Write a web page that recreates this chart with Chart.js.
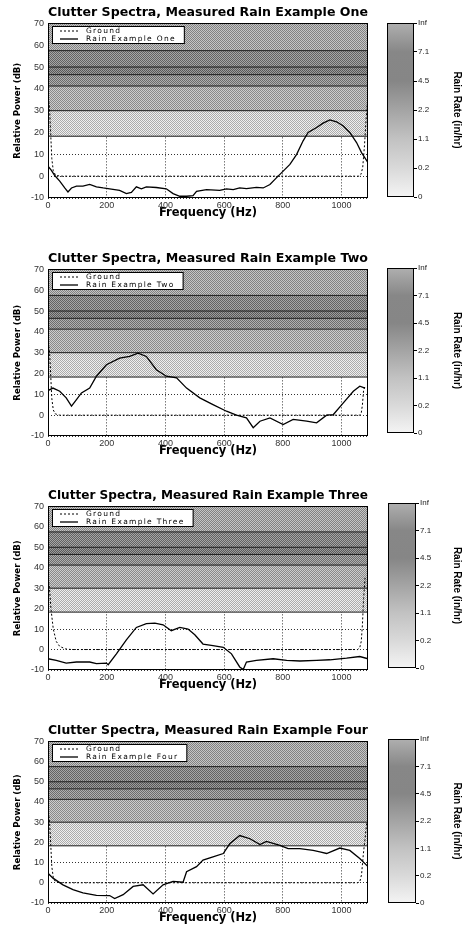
<!DOCTYPE html>
<html lang="en">
<head>
<meta charset="UTF-8" />
<title>Clutter Spectra, Measured Rain Examples</title>
<script src="https://cdn.jsdelivr.net/npm/chart.js@4"></script>
<style>
  html, body { margin: 0; padding: 0; background: #fff; }
  body { width: 463px; height: 926px; position: relative; overflow: hidden; }
  canvas { position: absolute; }
</style>
</head>
<body>
<script>
// ---- data ----
const xTicks = [0, 200, 400, 600, 800, 1000];
const yTicks = [-10, 0, 10, 20, 30, 40, 50, 60, 70];
const rainLevels = ['0', '0.2', '1.1', '2.2', '4.5', '7.1', 'Inf'];
const bandEdges = [18.3, 30, 41.3, 46.5, 50, 57.5, 70];

const titles = [
  'Clutter Spectra, Measured Rain Example One',
  'Clutter Spectra, Measured Rain Example Two',
  'Clutter Spectra, Measured Rain Example Three',
  'Clutter Spectra, Measured Rain Example Four'
];
const rainNames = ['Rain Example One', 'Rain Example Two', 'Rain Example Three', 'Rain Example Four'];

const groundHz1 = [0, 5, 9, 13, 18, 25, 40, 1060, 1066, 1072, 1078, 1084, 1090];
const groundDb1 = [36, 32, 20, 8, 2.5, 0.6, 0, 0, 0.8, 4, 14, 27, 37];
const rainHz1 = [0, 11, 23, 40, 57, 68, 80, 97, 119, 142, 165, 188, 210, 244, 267, 284, 301, 318, 335, 369, 403, 426, 449, 472, 494, 506, 540, 585, 608, 631, 653, 676, 710, 733, 756, 778, 801, 824, 847, 869, 886, 915, 937, 960, 983, 1006, 1028, 1051, 1068, 1090];
const rainDb1 = [4.6, 2.8, 0.3, -2.3, -5.4, -7.2, -5.4, -4.6, -4.6, -3.8, -4.9, -5.4, -5.8, -6.5, -8, -7.4, -4.9, -5.8, -4.9, -5.2, -5.8, -8, -9.2, -9.2, -8.9, -6.9, -6.2, -6.5, -5.8, -6.2, -5.4, -5.7, -5.1, -5.4, -3.8, -0.8, 2.3, 5.4, 10, 16.2, 20, 22.3, 24.3, 25.8, 24.9, 23, 20, 15.4, 10.8, 6.2];

const groundHz2 = [0, 5, 9, 13, 18, 25, 40, 1062, 1067, 1071, 1075, 1080];
const groundDb2 = [35, 31, 20, 8, 2.5, 0.6, 0, 0, 1, 5, 12, 14];
const rainHz2 = [0, 17, 40, 62, 80, 97, 114, 142, 165, 199, 244, 278, 307, 335, 369, 403, 438, 472, 517, 562, 608, 642, 676, 699, 722, 756, 801, 835, 881, 915, 949, 972, 1006, 1040, 1062, 1080];
const rainDb2 = [11.8, 13, 11.5, 8.3, 4.3, 7.5, 10.7, 13, 18.7, 24.2, 27.4, 28.2, 29.8, 28.2, 21.8, 18.7, 17.9, 13, 8.3, 5.1, 1.9, 0, -1.3, -6, -2.9, -1.3, -4.5, -2, -2.9, -3.7, 0, 0.3, 5.9, 11.5, 13.9, 13];

const groundHz3 = [0, 5, 10, 18, 28, 40, 60, 80, 1055, 1062, 1067, 1071, 1075, 1080];
const groundDb3 = [35, 30, 20, 10, 4, 1.5, 0.3, 0, 0, 1, 4, 12, 25, 35];
const rainHz3 = [0, 28, 62, 97, 142, 165, 199, 205, 233, 267, 301, 335, 364, 392, 420, 449, 477, 500, 528, 562, 597, 625, 653, 665, 676, 710, 767, 813, 858, 915, 960, 1017, 1062, 1090];
const rainDb3 = [-4.5, -5.3, -6.6, -6.1, -6.1, -6.9, -6.6, -7.4, -2.1, 4.7, 10.8, 12.7, 12.9, 12.1, 9.2, 10.8, 10, 7.2, 2.7, 1.9, 1.1, -2.1, -8.5, -9.8, -6.1, -5.3, -4.5, -5.3, -5.6, -5.3, -5, -4.2, -3.4, -4.5];

const groundHz4 = [0, 5, 9, 13, 18, 25, 40, 1055, 1062, 1068, 1074, 1080, 1086];
const groundDb4 = [35, 31, 20, 8, 2.5, 0.6, 0, 0, 0.5, 4, 14, 22, 30];
const rainHz4 = [0, 17, 51, 85, 119, 165, 210, 227, 256, 290, 324, 358, 392, 426, 460, 472, 506, 528, 562, 597, 619, 653, 688, 722, 744, 790, 818, 858, 903, 926, 949, 994, 1028, 1062, 1090];
const rainDb4 = [4.7, 2.3, -1, -3.4, -5, -6.2, -6.3, -7.8, -5.9, -1.8, -1, -5.5, -1, 0.7, 0.3, 5.5, 8, 11.2, 12.8, 14.5, 19.3, 23.4, 21.8, 18.9, 20.5, 18.5, 16.9, 16.9, 16, 15.3, 14.5, 17.2, 16, 12, 8];

const groundHz = [groundHz1, groundHz2, groundHz3, groundHz4];
const groundDb = [groundDb1, groundDb2, groundDb3, groundDb4];
const rainHz = [rainHz1, rainHz2, rainHz3, rainHz4];
const rainDb = [rainDb1, rainDb2, rainDb3, rainDb4];

// ---- styles and layout ----
const X_MAX = 1090;
const bandShades = [205, 171, 142, 123, 132, 163];
const cbarShades = ['#f4f4f4', '#d9d9d9', '#c2c2c2', '#a4a4a4', '#868686', '#878787', '#afafaf'];
const PLOT_LEFT = 48, PLOT_RIGHT = 368, MAIN_W = 416, CBAR_X = 380;
const panels = [
  { top: 23, bottom: 198, barL: 387, barR: 414, barT: 23, barB: 197 },
  { top: 269, bottom: 436, barL: 387, barR: 414, barT: 268, barB: 433 },
  { top: 506, bottom: 670, barL: 388, barR: 416, barT: 503, barB: 668 },
  { top: 741, bottom: 903, barL: 388, barR: 416, barT: 739, barB: 903 }
];

Chart.defaults.font.family = '"Liberation Sans", Arial, sans-serif';
Chart.defaults.color = '#000';

const xy = (xs, ys) => xs.map((x, i) => ({ x: x, y: ys[i] }));

// small checker so the shaded bands look like the halftone of the print
function dither(level) {
  const c = document.createElement('canvas');
  c.width = 2; c.height = 2;
  const g = c.getContext('2d');
  const lo = Math.max(level - 34, 0), hi = Math.min(level + 34, 255);
  g.fillStyle = `rgb(${hi},${hi},${hi})`;
  g.fillRect(0, 0, 2, 2);
  g.fillStyle = `rgb(${lo},${lo},${lo})`;
  g.fillRect(0, 0, 1, 1);
  g.fillRect(1, 1, 1, 1);
  return g.createPattern(c, 'repeat');
}

const frame = {
  id: 'frame',
  afterDatasetsDraw(chart) {
    const a = chart.chartArea, ctx = chart.ctx;
    ctx.save();
    ctx.strokeStyle = '#000';
    ctx.lineWidth = 1;
    ctx.strokeRect(Math.round(a.left) + 0.5, Math.round(a.top) + 0.5,
      Math.round(a.right - a.left) - 1, Math.round(a.bottom - a.top) - 1);
    ctx.restore();
  }
};

// legend box in the top-left corner of the axes
const boxLegend = {
  id: 'boxLegend',
  afterDatasetsDraw(chart) {
    const a = chart.chartArea, ctx = chart.ctx;
    const items = chart.data.datasets.filter(d => d.label);
    ctx.save();
    ctx.font = '7.5px "DejaVu Sans", sans-serif';
    ctx.letterSpacing = '1.3px';
    const tw = Math.max(...items.map(d => ctx.measureText(d.label).width));
    const x0 = Math.round(a.left) + 4, y0 = Math.round(a.top) + 3;
    const w = 34 + tw + 8, h = 17;
    ctx.fillStyle = '#fff';
    ctx.fillRect(x0, y0, w, h);
    ctx.strokeStyle = '#000';
    ctx.lineWidth = 1;
    ctx.strokeRect(x0 + 0.5, y0 + 0.5, w, h);
    items.forEach((d, i) => {
      const y = y0 + 5 + i * 8;
      ctx.setLineDash(d.borderDash || []);
      ctx.lineWidth = d.borderWidth;
      ctx.beginPath();
      ctx.moveTo(x0 + 8, y);
      ctx.lineTo(x0 + 26, y);
      ctx.stroke();
      ctx.setLineDash([]);
      ctx.fillStyle = '#000';
      ctx.textBaseline = 'middle';
      ctx.fillText(d.label, x0 + 34, y);
    });
    ctx.restore();
  }
};

function makeCanvas(left, top, w, h) {
  const c = document.createElement('canvas');
  c.width = w; c.height = h;
  c.style.left = left + 'px'; c.style.top = top + 'px';
  c.style.width = w + 'px'; c.style.height = h + 'px';
  document.body.appendChild(c);
  return c;
}

panels.forEach((p, i) => {
  // main spectrum axes
  const mainH = (p.bottom - p.top) + 23 + 24;
  const cv = makeCanvas(0, p.top - 23, MAIN_W, mainH);

  const bands = bandEdges.map((edge, k) => ({
    data: [{ x: 0, y: edge }, { x: X_MAX, y: edge }],
    borderColor: '#1a1a1a',
    borderWidth: 1,
    pointRadius: 0,
    backgroundColor: k === 0 ? 'transparent' : dither(bandShades[k - 1]),
    fill: k === 0 ? false : { value: bandEdges[k - 1] }
  }));

  new Chart(cv, {
    type: 'line',
    data: {
      datasets: [
        { label: 'Ground', data: xy(groundHz[i], groundDb[i]), borderColor: '#000', borderWidth: 1,
          borderDash: [2, 2], pointRadius: 0, fill: false },
        { label: rainNames[i], data: xy(rainHz[i], rainDb[i]), borderColor: '#000', borderWidth: 1.3,
          pointRadius: 0, fill: false },
        ...bands
      ]
    },
    options: {
      responsive: false,
      animation: false,
      devicePixelRatio: 1,
      layout: { padding: { top: 5, right: MAIN_W - PLOT_RIGHT, left: 0, bottom: 0 } },
      plugins: {
        legend: { display: false },
        tooltip: { enabled: false },
        title: {
          display: true, text: titles[i], fullSize: false, color: '#000',
          font: { family: '"DejaVu Sans", sans-serif', weight: 'bold', size: 12.8 },
          padding: { top: 0, bottom: 3 }
        }
      },
      scales: {
        x: {
          type: 'linear', min: 0, max: X_MAX,
          afterBuildTicks: s => { s.ticks = xTicks.map(v => ({ value: v })); },
          afterFit: s => { s.height = 24; },
          grid: { color: '#333', lineWidth: 1, drawTicks: false },
          border: { display: false, dash: [1, 2] },
          ticks: { padding: 2, color: '#333', font: { size: 9 }, callback: v => String(v) },
          title: {
            display: true, text: 'Frequency (Hz)', color: '#000',
            font: { family: '"DejaVu Sans", sans-serif', weight: 'bold', size: 11.5 },
            padding: { top: 0, bottom: 2 }
          }
        },
        y: {
          min: -10, max: 70,
          afterBuildTicks: s => { s.ticks = yTicks.map(v => ({ value: v })); },
          afterFit: s => { s.width = PLOT_LEFT; },
          grid: { color: '#333', lineWidth: 1, drawTicks: false },
          border: { display: false, dash: [1, 2] },
          ticks: { padding: 4, color: '#333', font: { size: 9 }, callback: v => String(v) },
          title: {
            display: true, text: 'Relative Power (dB)', color: '#000',
            font: { family: '"Liberation Sans Narrow", "Arial Narrow", "DejaVu Sans Condensed", sans-serif', weight: 'bold', size: 9.5 },
            padding: { top: 12, bottom: 0 }
          }
        }
      }
    },
    plugins: [frame, boxLegend]
  });

  // rain-rate colorbar
  const cbH = (p.barB - p.barT) + 20;
  const cc = makeCanvas(CBAR_X, p.barT - 10, 463 - CBAR_X, cbH);
  new Chart(cc, {
    type: 'bar',
    data: {
      labels: ['rate'],
      datasets: [{
        data: [[0, rainLevels.length - 1]],
        borderWidth: 0,
        barPercentage: 1,
        categoryPercentage: 1,
        backgroundColor: c => {
          const area = c.chart.chartArea;
          if (!area) return '#bbb';
          const g = c.chart.ctx.createLinearGradient(0, area.bottom, 0, area.top);
          cbarShades.forEach((s, k) => g.addColorStop(k / (cbarShades.length - 1), s));
          return g;
        }
      }]
    },
    options: {
      responsive: false,
      animation: false,
      devicePixelRatio: 1,
      layout: { padding: { left: p.barL - CBAR_X, top: 10, bottom: 10, right: 0 } },
      plugins: { legend: { display: false }, tooltip: { enabled: false } },
      scales: {
        x: { display: false },
        y: {
          position: 'right', min: 0, max: rainLevels.length - 1,
          afterBuildTicks: s => { s.ticks = rainLevels.map((_, k) => ({ value: k })); },
          afterFit: s => { s.width = 463 - p.barR; },
          grid: { drawOnChartArea: false, drawTicks: true, tickLength: 3, color: '#000' },
          border: { display: false },
          ticks: { padding: 1, color: '#222', font: { size: 8 }, callback: v => rainLevels[v] },
          title: {
            display: true, text: 'Rain Rate (in/hr)', color: '#000',
            font: { weight: 'bold', size: 10 },
            padding: { top: 0, bottom: 0 }
          }
        }
      }
    },
    plugins: [frame]
  });
});
</script>
</body>
</html>
